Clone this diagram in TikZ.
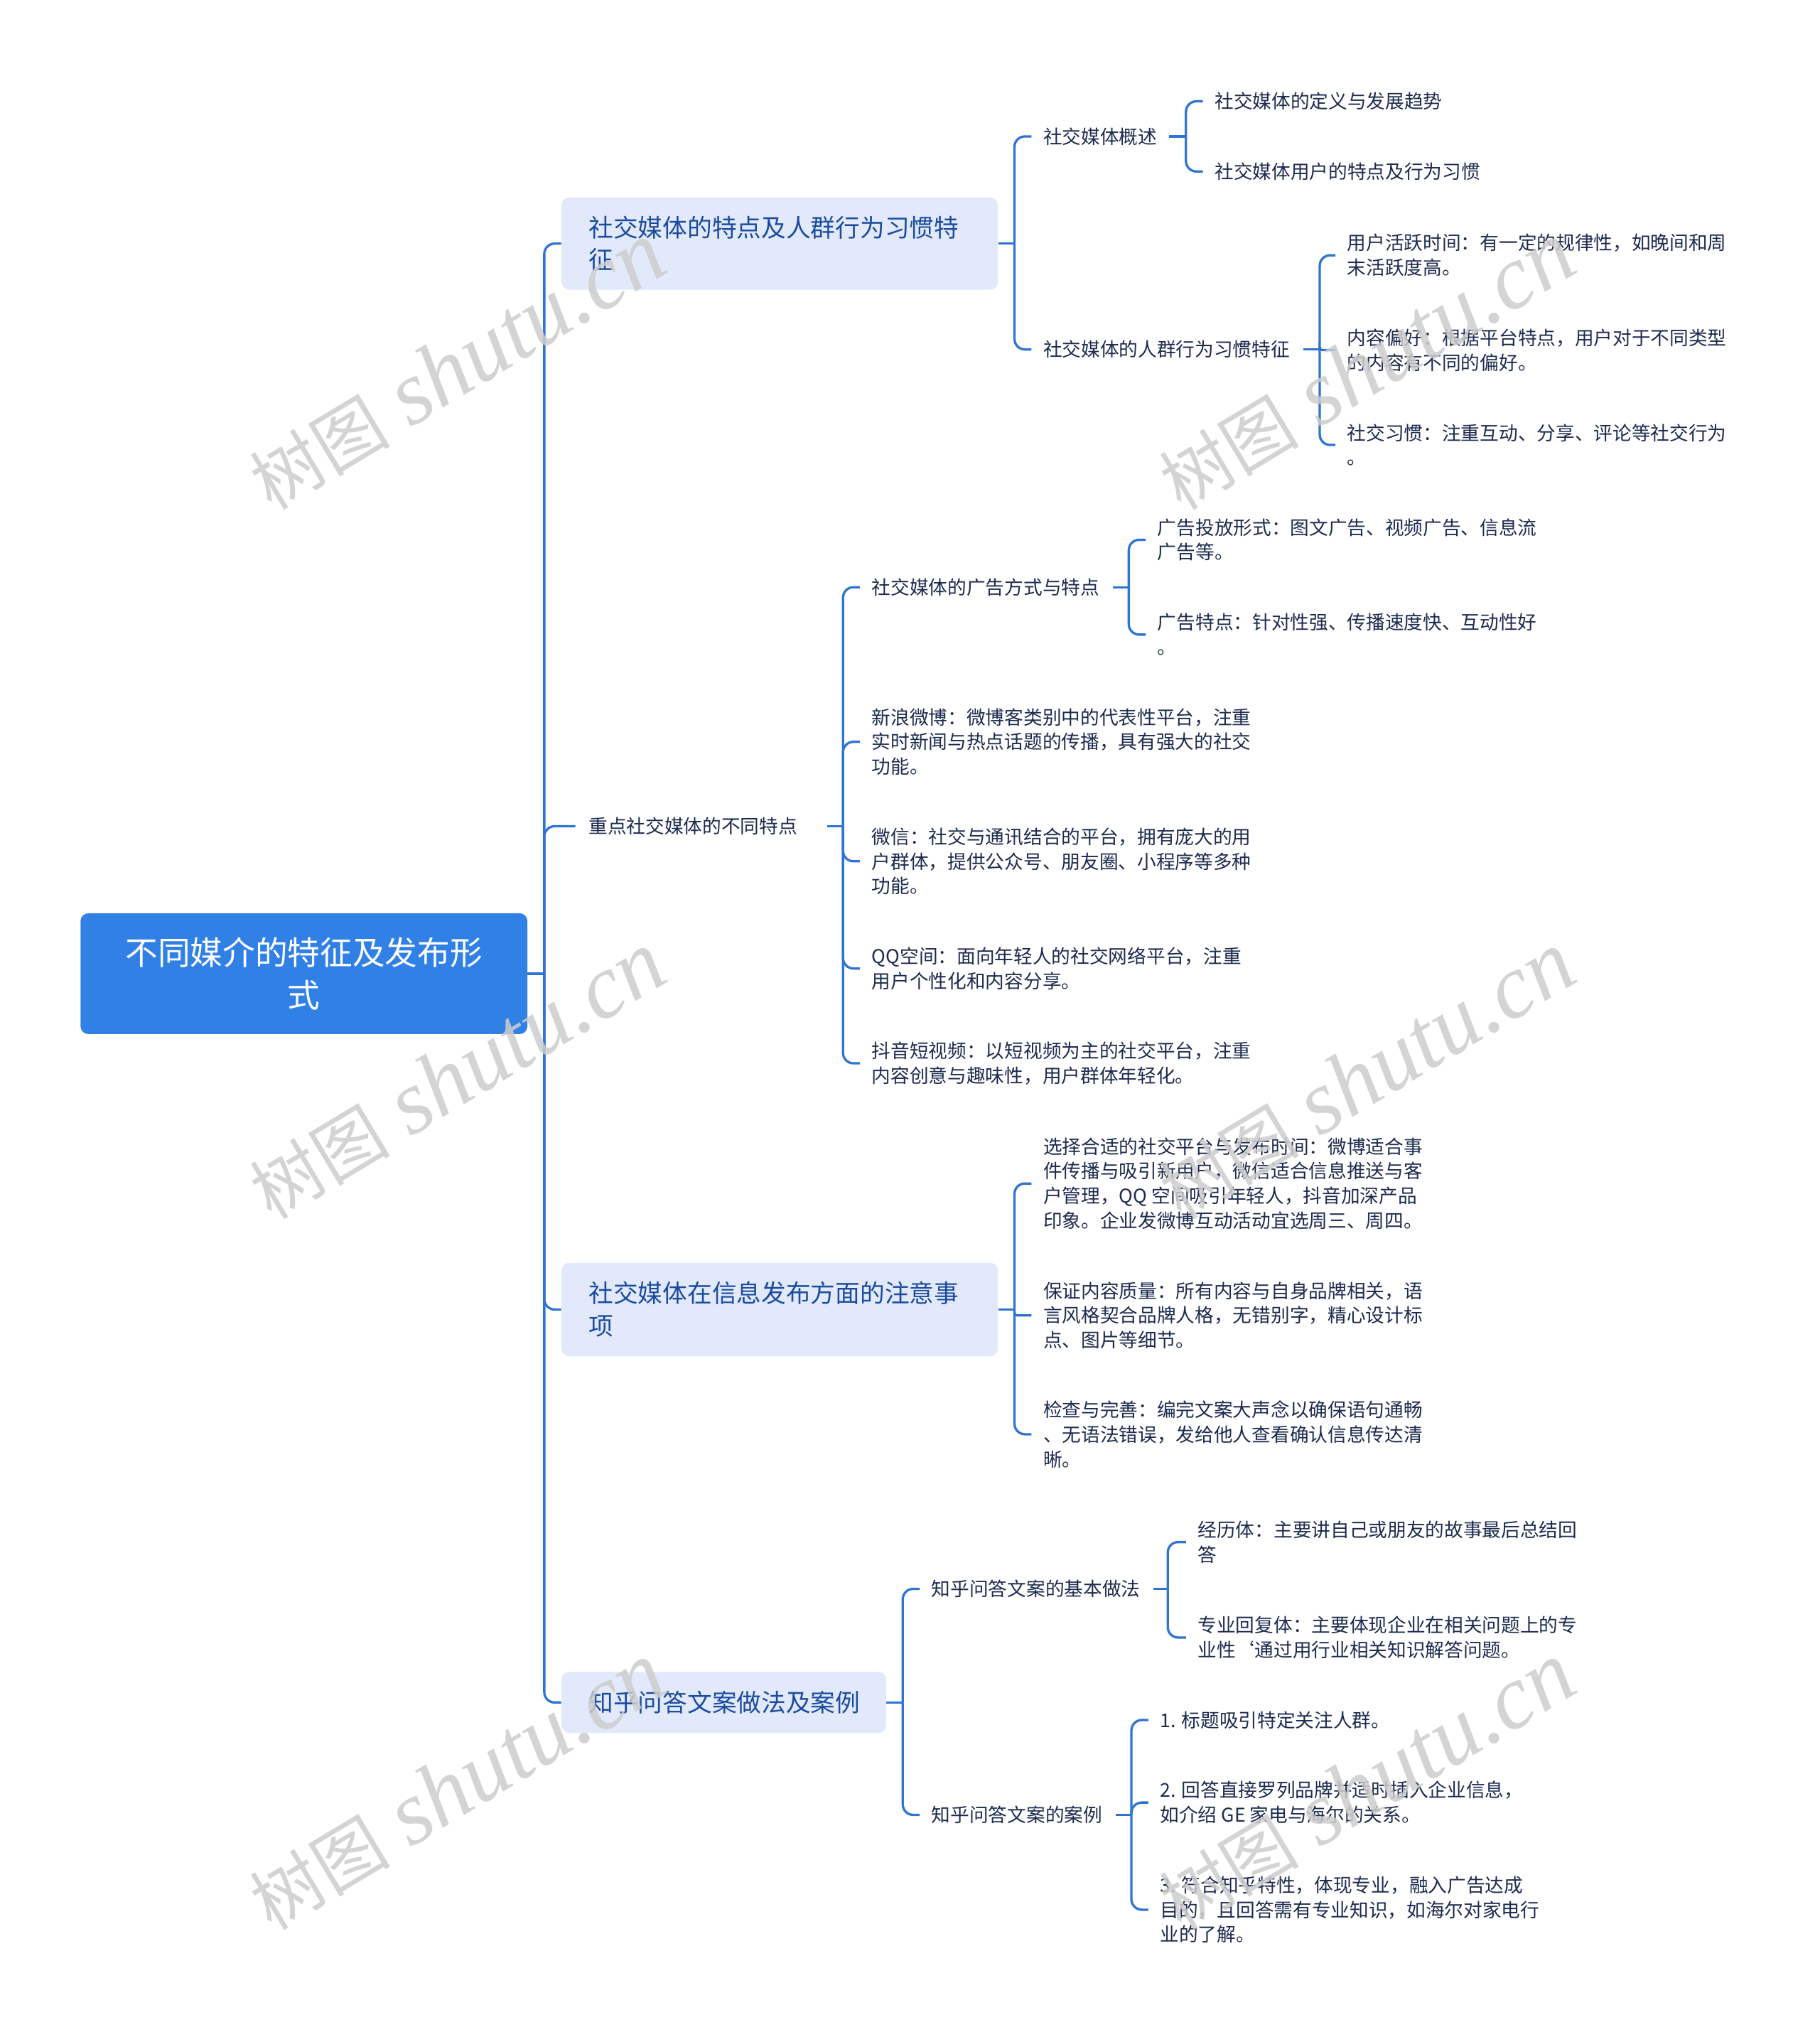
\documentclass[tikz,border=0pt]{standalone}
\usepackage{fontspec}
\setmainfont{Noto Sans CJK SC}
\newfontfamily\wmserif{Liberation Serif}
\definecolor{lineblue}{RGB}{47,116,211}
\definecolor{rootblue}{RGB}{48,128,230}
\definecolor{boxblue}{RGB}{225,233,251}
\definecolor{topicblue}{RGB}{29,76,158}
\definecolor{leafnavy}{RGB}{29,43,79}
\definecolor{wmgray}{RGB}{205,205,205}
\newcommand{\wmtext}{{\fontsize{54}{60}\selectfont 树图}\hspace{16pt}{\wmserif\itshape\fontsize{70}{80}\selectfont shutu.cn}}
\begin{document}
\begin{tikzpicture}[x=1pt,y=-1pt,
  link/.style={draw=lineblue,line width=1.8pt,rounded corners=8pt},
  linkjog/.style={draw=lineblue,line width=1.8pt,rounded corners=2pt},
  rootbox/.style={fill=rootblue,text=white,rounded corners=6pt,font=\fontsize{25}{33}\selectfont,align=center,minimum width=344pt,minimum height=93pt,inner sep=0pt},
  topicbox/.style={fill=boxblue,text=topicblue,rounded corners=6pt,font=\fontsize{19}{25}\selectfont,align=left,anchor=west,inner xsep=21pt,inner ysep=0pt},
  leaf/.style={text=leafnavy,font=\fontsize{14.6}{19}\selectfont,anchor=west,inner sep=0pt,align=left},
  wm/.style={text=wmgray,rotate=31,inner sep=0pt,opacity=0.85}]
\useasboundingbox[fill=white] (0,0) rectangle (1401,1568);

% ---------- nodes ----------
\node[rootbox] (root) at (234,749.5) {不同媒介的特征及发布形\\式};

\node[topicbox,text width=294pt,minimum height=71pt] (b1) at (432,187.5) {社交媒体的特点及人群行为习惯特\\征};
\node[leaf] (n4) at (453,636) {重点社交媒体的不同特点};
\node[topicbox,text width=294pt,minimum height=72pt] (b2) at (432,1008) {社交媒体在信息发布方面的注意事\\项};
\node[topicbox,text width=208pt,minimum height=47pt] (b3) at (432,1310.5) {知乎问答文案做法及案例};

% b1 subtree
\node[leaf] (c11) at (803,105) {社交媒体概述};
\node[leaf] (c12) at (803,269) {社交媒体的人群行为习惯特征};
\node[leaf] (l111) at (935,78) {社交媒体的定义与发展趋势};
\node[leaf] (l112) at (935,132) {社交媒体用户的特点及行为习惯};
\node[leaf] (l121) at (1037,196.5) {用户活跃时间：有一定的规律性，如晚间和周\\末活跃度高。};
\node[leaf] (l122) at (1037,269.5) {内容偏好：根据平台特点，用户对于不同类型\\的内容有不同的偏好。};
\node[leaf] (l123) at (1037,342.5) {社交习惯：注重互动、分享、评论等社交行为\\。};

% n4 subtree
\node[leaf] (c41) at (671,452) {社交媒体的广告方式与特点};
\node[leaf] (l411) at (891,415.5) {广告投放形式：图文广告、视频广告、信息流\\广告等。};
\node[leaf] (l412) at (891,488.5) {广告特点：针对性强、传播速度快、互动性好\\。};
\node[leaf] (l42) at (671,571) {新浪微博：微博客类别中的代表性平台，注重\\实时新闻与热点话题的传播，具有强大的社交\\功能。};
\node[leaf] (l43) at (671,663) {微信：社交与通讯结合的平台，拥有庞大的用\\户群体，提供公众号、朋友圈、小程序等多种\\功能。};
\node[leaf] (l44) at (671,745.5) {QQ空间：面向年轻人的社交网络平台，注重\\用户个性化和内容分享。};
\node[leaf] (l45) at (671,818.5) {抖音短视频：以短视频为主的社交平台，注重\\内容创意与趣味性，用户群体年轻化。};

% b2 subtree
\node[leaf] (l21) at (803,911) {选择合适的社交平台与发布时间：微博适合事\\件传播与吸引新用户，微信适合信息推送与客\\户管理，QQ 空间吸引年轻人，抖音加深产品\\印象。企业发微博互动活动宜选周三、周四。};
\node[leaf] (l22) at (803,1012.5) {保证内容质量：所有内容与自身品牌相关，语\\言风格契合品牌人格，无错别字，精心设计标\\点、图片等细节。};
\node[leaf] (l23) at (803,1104) {检查与完善：编完文案大声念以确保语句通畅\\、无语法错误，发给他人查看确认信息传达清\\晰。};

% b3 subtree
\node[leaf] (c31) at (717,1223) {知乎问答文案的基本做法};
\node[leaf] (c32) at (717,1397) {知乎问答文案的案例};
\node[leaf] (l311) at (922,1187) {经历体：主要讲自己或朋友的故事最后总结回\\答};
\node[leaf] (l312) at (922,1260.5) {专业回复体：主要体现企业在相关问题上的专\\业性‘通过用行业相关知识解答问题。};
\node[leaf] (l321) at (893,1324) {1. 标题吸引特定关注人群。};
\node[leaf] (l322) at (893,1387.5) {2. 回答直接罗列品牌并适时插入企业信息，\\如介绍 GE 家电与海尔的关系。};
\node[leaf] (l323) at (893,1470) {3. 符合知乎特性，体现专业，融入广告达成\\目的，且回答需有专业知识，如海尔对家电行\\业的了解。};

% ---------- bus coordinates ----------
\coordinate (busR) at (419,0);
\coordinate (busB1) at (781,0);
\coordinate (busC11) at (913,0);
\coordinate (busC12) at (1016,0);
\coordinate (busN4) at (649,0);
\coordinate (busC41) at (869,0);
\coordinate (busB2) at (781,0);
\coordinate (busB3) at (695,0);
\coordinate (busC31) at (899,0);
\coordinate (busC32) at (871,0);

% ---------- connectors ----------
% root trunk
\draw[link] (root.east) -- (root.east -| busR);
\draw[link] (root.east -| busR) |- (b1.west);
\draw[link] (root.east -| busR) |- ([xshift=-10pt]n4.west);
\draw[link] (root.east -| busR) |- (b2.west);
\draw[link] (root.east -| busR) |- (b3.west);

% b1
\draw[link] (b1.east) -- (b1.east -| busB1);
\draw[link] (b1.east -| busB1) |- ([xshift=-9pt]c11.west);
\draw[link] (b1.east -| busB1) |- ([xshift=-9pt]c12.west);
\draw[link] ([xshift=9pt]c11.east) -- (c11.east -| busC11);
\draw[link] (c11.east -| busC11) |- ([xshift=-9pt]l111.west);
\draw[link] (c11.east -| busC11) |- ([xshift=-9pt]l112.west);
\draw[link] ([xshift=10pt]c12.east) -- (c12.east -| busC12);
\draw[link] (c12.east -| busC12) |- ([xshift=-9pt]l121.west);
\draw[linkjog] (c12.east -| busC12) |- ([xshift=-9pt]l122.west);
\draw[link] (c12.east -| busC12) |- ([xshift=-9pt]l123.west);

% n4
\draw[link] ([xshift=23pt]n4.east) -- (n4.east -| busN4);
\draw[link] (n4.east -| busN4) |- ([xshift=-9pt]c41.west);
\draw[link] (n4.east -| busN4) |- ([xshift=-9pt]l42.west);
\draw[link] (n4.east -| busN4) |- ([xshift=-9pt]l43.west);
\draw[link] (n4.east -| busN4) |- ([xshift=-9pt]l44.west);
\draw[link] (n4.east -| busN4) |- ([xshift=-9pt]l45.west);
\draw[link] ([xshift=10pt]c41.east) -- (c41.east -| busC41);
\draw[link] (c41.east -| busC41) |- ([xshift=-9pt]l411.west);
\draw[link] (c41.east -| busC41) |- ([xshift=-9pt]l412.west);

% b2
\draw[link] (b2.east) -- (b2.east -| busB2);
\draw[link] (b2.east -| busB2) |- ([xshift=-9pt]l21.west);
\draw[linkjog] (b2.east -| busB2) |- ([xshift=-9pt]l22.west);
\draw[link] (b2.east -| busB2) |- ([xshift=-9pt]l23.west);

% b3
\draw[link] (b3.east) -- (b3.east -| busB3);
\draw[link] (b3.east -| busB3) |- ([xshift=-9pt]c31.west);
\draw[link] (b3.east -| busB3) |- ([xshift=-9pt]c32.west);
\draw[link] ([xshift=10pt]c31.east) -- (c31.east -| busC31);
\draw[link] (c31.east -| busC31) |- ([xshift=-9pt]l311.west);
\draw[link] (c31.east -| busC31) |- ([xshift=-9pt]l312.west);
\draw[link] ([xshift=10pt]c32.east) -- (c32.east -| busC32);
\draw[link] (c32.east -| busC32) |- ([xshift=-9pt]l321.west);
\draw[link] (c32.east -| busC32) |- ([xshift=-9pt]l322.west);
\draw[link] (c32.east -| busC32) |- ([xshift=-9pt]l323.west);

% ---------- watermarks ----------
\node[wm] (w1) at (352,282) {\wmtext};
\node[wm] (w2) at (1052,282) {\wmtext};
\node[wm] (w3) at (352,828) {\wmtext};
\node[wm] (w4) at (1052,828) {\wmtext};
\node[wm] (w5) at (352,1375) {\wmtext};
\node[wm] (w6) at (1052,1375) {\wmtext};
\end{tikzpicture}
\end{document}
